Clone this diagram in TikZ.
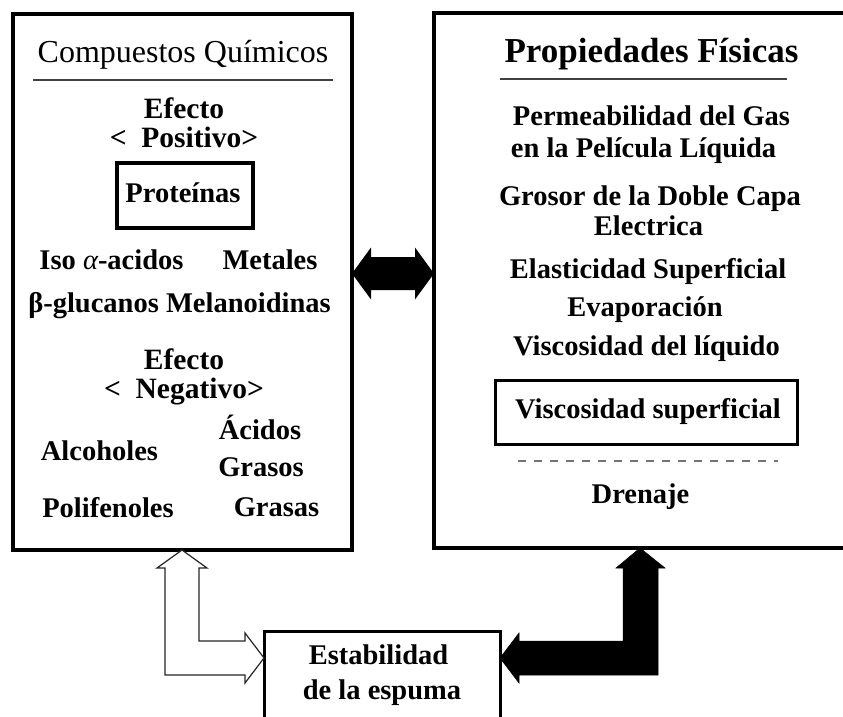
\documentclass[tikz,border=0pt]{standalone}
\usepackage{fontspec}
\setmainfont{Liberation Serif}
\usetikzlibrary{calc}
\newcommand{\twolines}[3]{\vtop{\fontsize{29.5}{#3}\selectfont\halign{\hfil##\hfil\cr #1\cr #2\cr}}}
\begin{document}
\begin{tikzpicture}[x=1pt,y=-1pt,
  frame/.style={draw, line width=4pt, inner sep=0pt, outer sep=0pt, rectangle},
  subframe/.style={draw, line width=3.5pt, inner sep=0pt, outer sep=0pt, rectangle},
  lbl/.style={anchor=base, inner sep=0pt, font=\bfseries\fontsize{28.5}{30}\selectfont},
  effect/.style={anchor=base, inner sep=0pt, font=\bfseries\fontsize{29.5}{32}\selectfont},
  title/.style={anchor=base, inner sep=0pt, font=\fontsize{32}{34}\selectfont},
  btitle/.style={anchor=base, inner sep=0pt, font=\bfseries\fontsize{35}{37}\selectfont},
  rule/.style={draw=black!75, line width=2pt},
  hollow/.style={draw=black!85, line width=1.2pt, fill=white, line join=miter},
  solid arrow/.style={fill=black, draw=black, line width=0.5pt}
]
\useasboundingbox (0,0) rectangle (843,717);

% boxes
\node[frame, minimum width=339pt, minimum height=536pt] (L) at (182.5,282) {};
\node[frame, minimum width=414pt, minimum height=535pt] (R) at (641,280.5) {};
\node[subframe, minimum width=236pt, minimum height=91pt, line width=3pt] (E) at (382,676.5) {};

% left box content
\node[title] (cq) at (183,63) {Compuestos Químicos};
\coordinate (cqa) at (33,80);
\coordinate (cqb) at (333,80);
\draw[rule] (cqa) -- (cqb);
\node[effect] (pos) at (184,118) {\twolines{Efecto}{<\enspace Positivo>}{29}};
\node[subframe, minimum width=136pt, minimum height=65pt] (P) at (185,195.5) {};
\node[lbl] (prot) at (183,202) {Proteínas};
\node[lbl] (iso) at (111.5,269) {Iso {\mdseries\itshape α}-acidos};
\node[lbl] (met) at (270,269) {Metales};
\node[lbl] (glu) at (179.5,312) {β-glucanos Melanoidinas};
\node[effect] (neg) at (184,369.5) {\twolines{Efecto}{<\enspace Negativo>}{28.5}};
\node[lbl] (aci) at (260,439) {Ácidos};
\node[lbl] (alc) at (99.5,460) {Alcoholes};
\node[lbl] (gro) at (261,476) {Grasos};
\node[lbl] (pol) at (108,517) {Polifenoles};
\node[lbl] (gra) at (276.5,516) {Grasas};

% right box content
\node[btitle] (pf) at (651.5,63) {Propiedades Físicas};
\coordinate (pfa) at (500,79);
\coordinate (pfb) at (787,79);
\draw[rule] (pfa) -- (pfb);
\node[lbl] (perm) at (651.5,125) {Permeabilidad del Gas};
\node[lbl] (peli) at (643.5,157) {en la Película Líquida};
\node[lbl] (gros) at (650,205) {Grosor de la Doble Capa};
\node[lbl] (elec) at (648.5,235) {Electrica};
\node[lbl] (elas) at (648,278) {Elasticidad Superficial};
\node[lbl] (evap) at (645,316) {Evaporación};
\node[lbl] (visl) at (646.5,355) {Viscosidad del líquido};
\node[subframe, minimum width=302pt, minimum height=64pt, line width=3pt] (V) at (646,412) {};
\node[lbl] (viss) at (648,418) {Viscosidad superficial};
\coordinate (da) at (518,461);
\coordinate (db) at (778,461);
\draw[draw=black!55, line width=2.5pt, dash pattern=on 8pt off 8pt] (da) -- (db);
\node[lbl] (dren) at (640.5,503) {Drenaje};

% bottom box content
\node[lbl] (est) at (378.5,664) {Estabilidad};
\node[lbl] (esp) at (382,699) {de la espuma};

% double arrow between boxes
\coordinate (m) at (0,273.5);
\fill (L.east |- m) -- ++(19,-26) -- ++(0,9.5)
  -- ($(R.west |- m)+(-19,-16.5)$) -- ++(0,-9.5) -- (R.west |- m)
  -- ++(-19,26) -- ++(0,-9.5) -- ($(L.east |- m)+(19,16.5)$) -- ++(0,9.5) -- cycle;

% hollow L-shaped arrow (left)
\coordinate (la) at (182,600);
\coordinate (lh) at (0,658);
\draw[hollow] (L.south -| la) -- ++(25,18) -- ++(-8,0)
  |- ($(E.west |- lh)+(-19,-17)$) -- ++(0,-8) -- (E.west |- lh)
  -- ++(-19,25) -- ++(0,-8) -| ($(L.south -| la)+(-17,18)$) -- ++(-8,0) -- cycle;

% solid L-shaped arrow (right)
\coordinate (ra) at (640,600);
\fill[solid arrow] (R.south -| ra) -- ++(25,20) -- ++(-7,0)
  |- ($(E.east |- lh)+(19,17)$) -- ++(0,8) -- (E.east |- lh)
  -- ++(19,-25) -- ++(0,8) -| ($(R.south -| ra)+(-17,20)$) -- ++(-7,0) -- cycle;
\end{tikzpicture}
\end{document}
